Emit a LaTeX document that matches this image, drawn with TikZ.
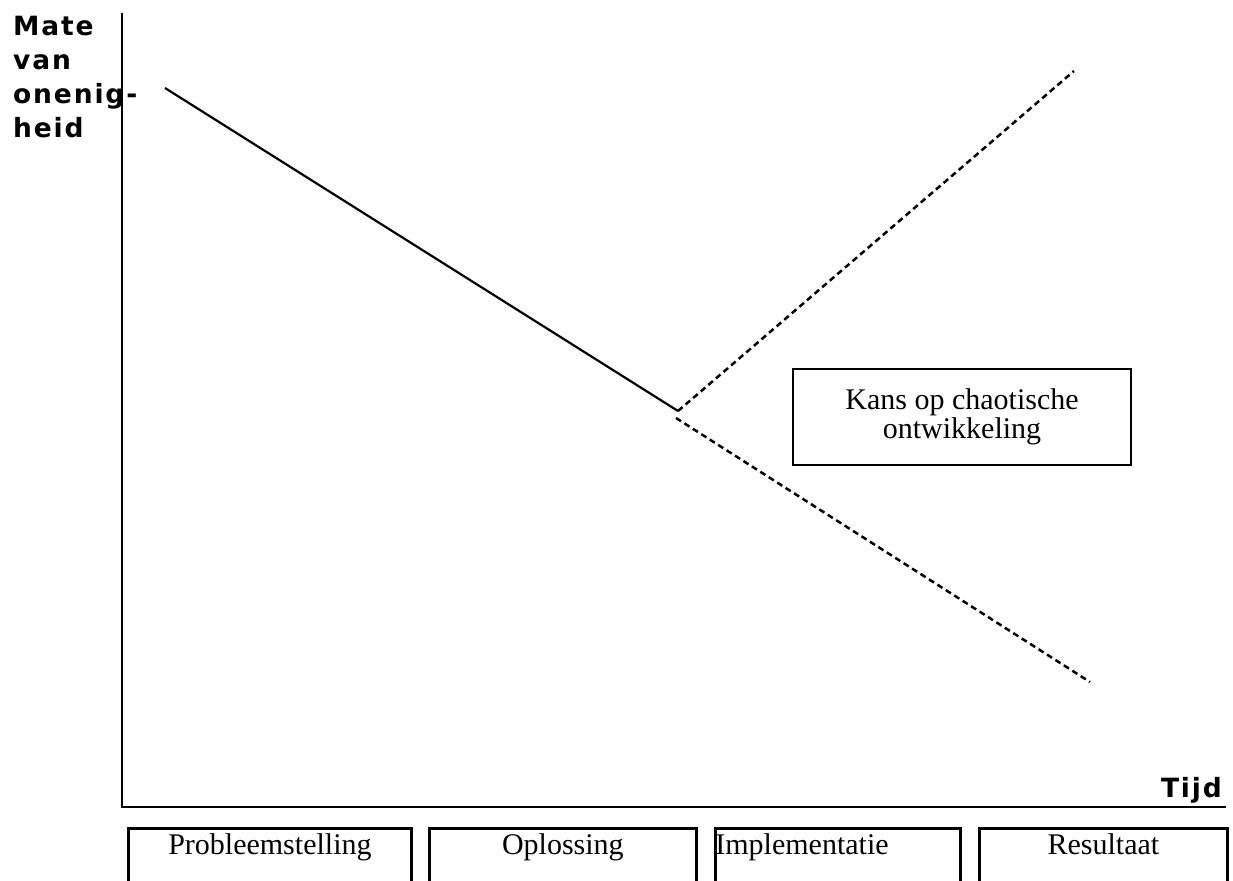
\documentclass[tikz,border=0pt]{standalone}
\usepackage{fontspec}
\setmainfont{Liberation Serif}
\newfontfamily\axislabelfont[LetterSpace=7]{DejaVu Sans}
\begin{document}
\begin{tikzpicture}[x=1pt,y=-1pt,
  axisline/.style={line width=2.5pt},
  trendline/.style={line width=2.2pt},
  chaosline/.style={line width=2.5pt, dash pattern=on 6pt off 4pt},
  axislabel/.style={font=\axislabelfont\bfseries\fontsize{26.5}{34}\selectfont, inner sep=0pt},
  phasebox/.style={draw, line width=2.8pt, font=\fontsize{30}{30}\selectfont,
     text height=20pt, text depth=45pt, inner ysep=6pt, inner xsep=0pt, anchor=north west},
  notebox/.style={draw, line width=2.8pt, font=\fontsize{30}{28.5}\selectfont, align=center,
     minimum width=338pt, minimum height=96pt}
]
\useasboundingbox (0,0) rectangle (1233,880);

% axes
\coordinate (ytop) at (122,13);
\coordinate (origin) at (122,807);
\coordinate (xend) at (1226,807);
\draw[axisline] (ytop) -- (origin) -- (xend);

\node[axislabel, anchor=north west, align=left] (ylab) at (13,15.5) {Mate\\van\\onenig-\\heid};
\node[axislabel, anchor=base east] (xlab) at (1222,797) {Tijd};

% trend lines
\coordinate (start) at (165,88);
\coordinate (split1) at (678,411);
\coordinate (split2) at (676,418);
\coordinate (upend) at (1074,71);
\coordinate (downend) at (1090,682);
\draw[trendline] (start) -- (split1);
\draw[chaosline] (split1) -- (upend);
\draw[chaosline] (split2) -- (downend);

% note box
\node[notebox] (note) at (962,417) {Kans op chaotische\\ontwikkeling};

% phase boxes
\node[phasebox, minimum width=283pt] (p1) at (127,827) {Probleemstelling};
\node[phasebox, minimum width=267pt] (p2) at (428,827) {Oplossing};
\node[phasebox, text width=245pt, align=left] (p3) at (714,827) {Implementatie};
\node[phasebox, minimum width=248pt] (p4) at (978,827) {Resultaat};
\end{tikzpicture}
\end{document}
